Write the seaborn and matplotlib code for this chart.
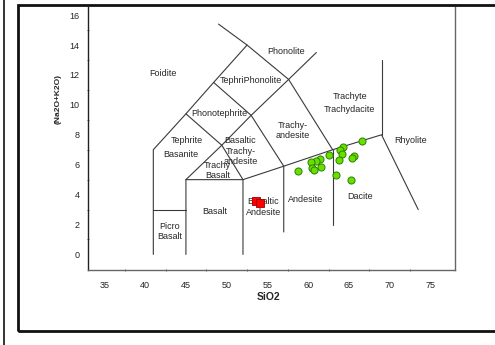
import pandas as pd
import matplotlib.pyplot as plt
import seaborn as sns
from matplotlib.patches import Rectangle
from matplotlib.lines import Line2D

# sample data (SiO2 vs total alkali)
green_sio2 = [66.6, 64.3, 63.9, 64.1, 65.6, 65.4, 63.8, 62.6, 61.4, 60.9, 60.4, 61.6, 60.5, 60.7, 58.7, 63.4, 65.2]
green_alk = [7.58, 7.15, 7.0, 6.69, 6.58, 6.43, 6.31, 6.65, 6.36, 6.27, 6.2, 5.86, 5.75, 5.64, 5.6, 5.31, 4.97]
red_sio2 = [53.65, 54.05]
red_alk = [3.59, 3.45]

# TAS field boundaries
boundaries = [
    [(41, 0), (41, 7), (45, 9.4), (48.4, 11.5), (52.5, 14), (49, 15.4)],
    [(52.5, 14), (57.6, 11.7), (63, 7)],
    [(41, 3), (45, 3)],
    [(45, 0), (45, 5), (52, 5), (57, 5.9), (63, 7), (69, 8), (73.5, 3)],
    [(45, 5), (49.4, 7.3), (53, 9.3), (57.6, 11.7), (61, 13.5)],
    [(45, 9.4), (49.4, 7.3), (52, 5), (52, 0)],
    [(48.4, 11.5), (53, 9.3), (57, 5.9), (57, 1.5)],
    [(63, 7), (63, 2)],
    [(69, 8), (69, 13)],
]

field_names = ["Foidite", "Phonolite", "TephriPhonolite", "Phonotephrite", "Tephrite",
               "Basanite", "Trachy\nBasalt", "Basaltic\nTrachy-\nandesite", "Trachy-\nandesite",
               "Trachyte", "Trachydacite", "Rhyolite", "Basalt", "Picro\nBasalt",
               "Basaltic\nAndesite", "Andesite", "Dacite"]
field_x = [42.2, 57.3, 52.95, 49.15, 45.1, 44.4, 48.9, 51.7, 58.1,
           65.1, 65.1, 72.6, 48.5, 43.0, 54.5, 59.7, 66.4]
field_y = [12.1, 13.6, 11.66, 9.44, 7.65, 6.65, 5.6, 6.9, 8.3,
           10.55, 9.66, 7.65, 2.9, 1.53, 3.17, 3.68, 3.9]

sns.set_style("white")
plt.rcParams['font.family'] = ['Liberation Sans', 'DejaVu Sans']

fig = plt.figure(figsize=(4.95, 3.45), dpi=100)
ax = fig.add_axes([0.178, 0.217, 0.919 - 0.178, 0.980 - 0.217])

for seg in boundaries:
    xs = [p[0] for p in seg]
    ys = [p[1] for p in seg]
    ax.plot(xs, ys, color='#3a3a3a', lw=0.8, zorder=1)

for name, x, y in zip(field_names, field_x, field_y):
    ax.text(x, y, name, fontsize=6.5, ha='center', va='center', linespacing=1.2, zorder=2)

green = pd.DataFrame({'SiO2': green_sio2, 'alk': green_alk})
red = pd.DataFrame({'SiO2': red_sio2, 'alk': red_alk})
sns.scatterplot(data=green, x='SiO2', y='alk', ax=ax, color='#66e000', edgecolor='#2f7f00',
                linewidth=0.7, s=26, zorder=3)
sns.scatterplot(data=red, x='SiO2', y='alk', ax=ax, color='#ff0000', edgecolor='#a00000',
                linewidth=0.6, s=34, marker='s', zorder=3)

ax.set_xlim(33, 78)
ax.set_ylim(-1.05, 16.55)
ax.set_xticks([35, 40, 45, 50, 55, 60, 65, 70, 75])
ax.set_xticks([37.5, 42.5, 47.5, 52.5, 57.5, 62.5, 67.5, 72.5], minor=True)
ax.set_yticks(range(0, 17, 2))
ax.set_yticks(range(1, 17, 2), minor=True)
ax.tick_params(which='major', direction='inout', length=4, width=0.8, labelsize=6.5, color='#222222')
ax.tick_params(which='minor', direction='inout', length=2, width=0.6, color='#444444', bottom=True, left=True)
ax.tick_params(axis='x', pad=6)
ax.tick_params(axis='y', pad=4)
ax.set_xlabel('')
ax.set_ylabel('')
for side in ['left', 'bottom', 'right']:
    ax.spines[side].set_color('#666666')
    ax.spines[side].set_linewidth(1.0)
ax.spines['left'].set_color('#222222')
ax.spines['top'].set_visible(False)

fig.text(269 / 495, 1 - 297 / 345, 'SiO2', fontsize=7.5, fontweight='bold', ha='center', va='center')
fig.text(58 / 495, 1 - 98.5 / 345, '(Na2O+K2O)', fontsize=6, fontweight='bold',
         ha='center', va='center', rotation=90)

# outer frame
fig.patches.append(Rectangle((18 / 495, 1 - 331 / 345), 1.0, (331 - 5) / 345, transform=fig.transFigure,
                             fill=False, edgecolor='#111111', linewidth=2.0))
fig.lines.append(Line2D([4 / 495, 4 / 495], [0, 1], transform=fig.transFigure, color='#111111', linewidth=1.2))

plt.savefig('out.png', dpi=100)
plt.close()
